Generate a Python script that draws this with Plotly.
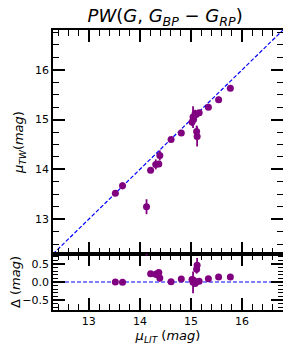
import plotly.graph_objects as go

# ---- data ----
mu_lit = [13.52, 13.66, 14.13, 14.21, 14.31, 14.37, 14.39, 14.61, 14.81, 15.02,
          15.04, 15.05, 15.08, 15.12, 15.11, 15.10, 15.16, 15.34, 15.54, 15.77]
mu_tw = [13.52, 13.67, 13.25, 13.98, 14.10, 14.11, 14.28, 14.60, 14.73, 14.95,
         15.05, 15.00, 15.12, 14.66, 14.76, 15.10, 15.14, 15.25, 15.40, 15.63]
mu_tw_err = [0.03, 0.07, 0.15, 0.04, 0.10, 0.04, 0.10, 0.04, 0.03, 0.08,
             0.22, 0.10, 0.08, 0.20, 0.12, 0.05, 0.04, 0.04, 0.06, 0.05]
delta = [0.00, -0.01, 0.88, 0.23, 0.21, 0.26, 0.11, 0.01, 0.08, 0.07,
         -0.01, 0.05, -0.04, 0.46, 0.35, 0.00, 0.02, 0.09, 0.14, 0.14]
delta_err = [0.03, 0.07, 0.15, 0.04, 0.10, 0.04, 0.10, 0.04, 0.03, 0.08,
             0.30, 0.10, 0.08, 0.20, 0.12, 0.05, 0.04, 0.04, 0.06, 0.05]

axis_range = [12.3, 16.8]
delta_range = [-0.77, 0.77]
main_ticks = [13, 14, 15, 16]
delta_ticks = [-0.5, 0.0, 0.5]
delta_ticklabels = ["\u22120.5", "0.0", "0.5"]

PURPLE = "#800080"
FONT = "DejaVu Sans"

fig = go.Figure()

# one-to-one line
fig.add_trace(go.Scatter(x=axis_range, y=axis_range, mode="lines",
                         line=dict(color="blue", width=1.2, dash="4px,2px"),
                         xaxis="x", yaxis="y", showlegend=False, hoverinfo="skip"))
fig.add_trace(go.Scatter(x=mu_lit, y=mu_tw, mode="markers",
                         marker=dict(color=PURPLE, size=7),
                         error_y=dict(type="data", array=mu_tw_err, color=PURPLE,
                                      thickness=1.8, width=0),
                         xaxis="x", yaxis="y", showlegend=False))
# zero line
fig.add_trace(go.Scatter(x=axis_range, y=[0, 0], mode="lines",
                         line=dict(color="blue", width=1.2, dash="4px,2px"),
                         xaxis="x2", yaxis="y2", showlegend=False, hoverinfo="skip"))
fig.add_trace(go.Scatter(x=mu_lit, y=delta, mode="markers",
                         marker=dict(color=PURPLE, size=7),
                         error_y=dict(type="data", array=delta_err, color=PURPLE,
                                      thickness=1.8, width=0),
                         xaxis="x2", yaxis="y2", showlegend=False, cliponaxis=True))

common = dict(showline=True, linecolor="black", linewidth=1.5, mirror="allticks",
              ticks="inside", ticklen=12, tickwidth=1.5, tickcolor="black",
              showgrid=False, zeroline=False, automargin=False,
              tickfont=dict(family=FONT, size=11, color="black"))

# the page body adds an 8px offset, so margins are shifted accordingly
fig.update_layout(
    width=291, height=350,
    margin=dict(l=45, r=16, t=22, b=48, autoexpand=False),
    paper_bgcolor="white", plot_bgcolor="white",
    font=dict(family=FONT, color="black"),
    title=dict(text="<i>PW</i>(<i>G</i>, <i>G</i><sub><i>BP</i></sub> \u2212 <i>G</i><sub><i>RP</i></sub>)",
               x=0.54, xanchor="center", y=0.977, yanchor="middle",
               font=dict(family=FONT, size=18, color="black")),
    xaxis=dict(range=axis_range, domain=[0, 1], anchor="y", tickvals=main_ticks,
               showticklabels=False,
               minor=dict(dtick=0.2, ticks="inside", ticklen=6, tickwidth=1, tickcolor="black"),
               **common),
    yaxis=dict(range=axis_range, domain=[0.2, 1], anchor="x", tickvals=main_ticks,
               minor=dict(dtick=0.25, ticks="inside", ticklen=6, tickwidth=1, tickcolor="black"),
               title=dict(text="<i>\u03bc</i><sub><i>TW</i></sub>(<i>mag</i>)",
                          font=dict(family=FONT, size=13), standoff=8),
               **common),
    xaxis2=dict(range=axis_range, domain=[0, 1], anchor="y2", tickvals=main_ticks,
                minor=dict(dtick=0.2, ticks="inside", ticklen=6, tickwidth=1, tickcolor="black"),
                title=dict(text="<i>\u03bc</i><sub><i>LIT</i></sub> (<i>mag</i>)",
                           font=dict(family=FONT, size=13), standoff=2),
                **common),
    yaxis2=dict(range=delta_range, domain=[0, 0.2], anchor="x2", tickvals=delta_ticks,
                ticktext=delta_ticklabels,
                minor=dict(dtick=0.1, ticks="inside", ticklen=5, tickwidth=1, tickcolor="black"),
                title=dict(text="\u0394 (<i>mag</i>)", font=dict(family=FONT, size=13), standoff=4),
                **common),
)

fig.write_html("out.html")
